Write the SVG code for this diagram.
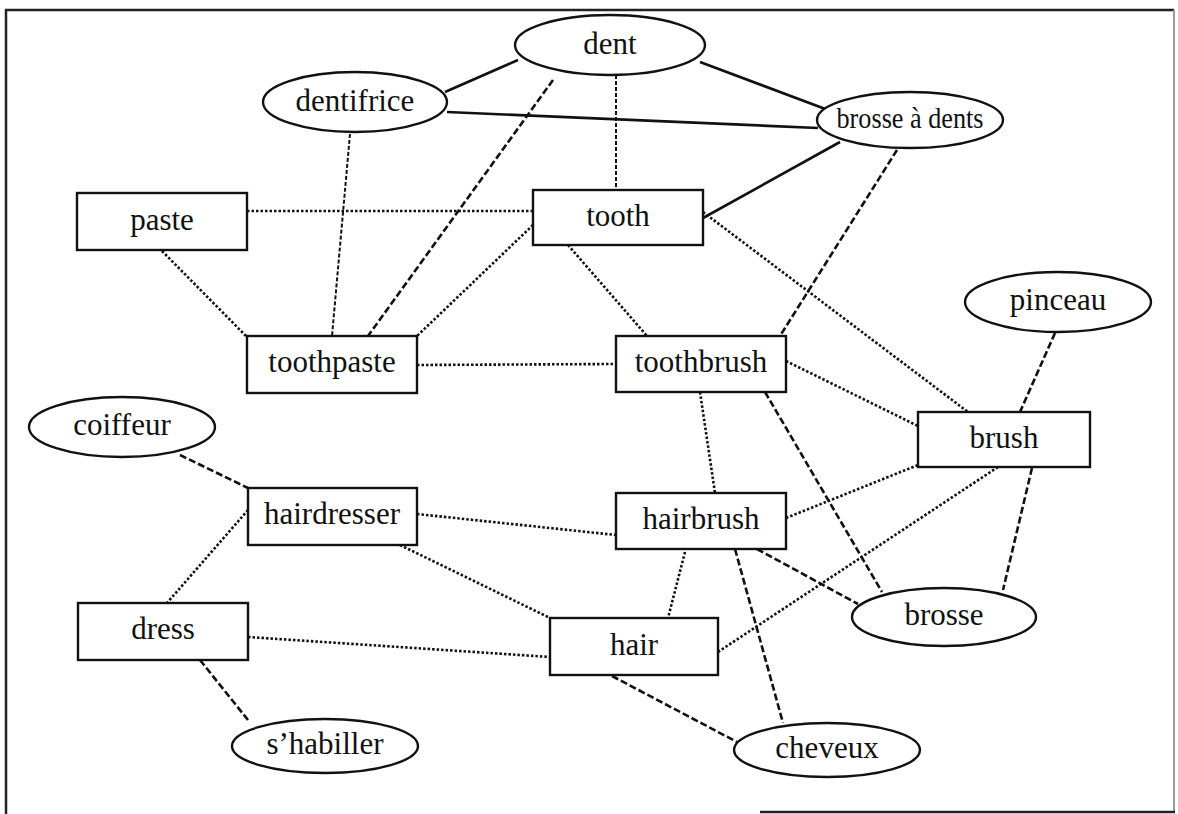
<svg xmlns="http://www.w3.org/2000/svg" width="1178" height="814" viewBox="0 0 1178 814">
<style>
.bg{fill:#ffffff}
.frame{fill:none;stroke:#222;stroke-width:2.5}
.frame2{fill:none;stroke:#999;stroke-width:2}
.box{fill:#fff;stroke:#111;stroke-width:2.4}
.ell{fill:#fff;stroke:#111;stroke-width:2.4}
.lbl{font-family:"Liberation Serif","Times New Roman",serif;font-size:31px;fill:#111;text-anchor:middle;dominant-baseline:central}
.small{font-size:29px}
.solid{stroke:#111;stroke-width:2.6;fill:none}
.dash{stroke:#111;stroke-width:2.6;stroke-dasharray:7 3;fill:none}
.fdash{stroke:#111;stroke-width:2;stroke-dasharray:4 2;fill:none}
.dot{stroke:#111;stroke-width:2.6;stroke-dasharray:2.5 2;fill:none}
</style>
<rect class="bg" x="0" y="0" width="1178" height="814"/>
<g id="frame">
<polyline class="frame" points="6,814 6,10 1174,10"/>
<line class="frame2" x1="1174" y1="10" x2="1174" y2="812"/>
<line class="frame" x1="760" y1="812" x2="1175" y2="812"/>
</g>
<g id="connectors">
<line class="solid" x1="445" y1="92" x2="518" y2="60"/>
<line class="solid" x1="447" y1="112" x2="818" y2="128"/>
<line class="solid" x1="700" y1="62" x2="828" y2="110"/>
<line class="solid" x1="703" y1="218" x2="840" y2="142"/>
<line class="fdash" x1="616" y1="75" x2="616" y2="190"/>
<line class="dash" x1="553" y1="80" x2="368" y2="336"/>
<line class="fdash" x1="350" y1="134" x2="332" y2="336"/>
<line class="dash" x1="897" y1="150" x2="780" y2="336"/>
<line class="dash" x1="1055" y1="333" x2="1020" y2="412"/>
<line class="dash" x1="1032" y1="468" x2="1003" y2="590"/>
<line class="dash" x1="765" y1="392" x2="882" y2="592"/>
<line class="dash" x1="757" y1="549" x2="858" y2="604"/>
<line class="dash" x1="735" y1="549" x2="783" y2="723"/>
<line class="dash" x1="612" y1="676" x2="737" y2="742"/>
<line class="dash" x1="180" y1="455" x2="248" y2="488"/>
<line class="dash" x1="200" y1="660" x2="248" y2="720"/>
<line class="dot" x1="247" y1="211" x2="533" y2="211"/>
<line class="dot" x1="162" y1="251" x2="246" y2="336"/>
<line class="dot" x1="533" y1="225" x2="417" y2="336"/>
<line class="dot" x1="568" y1="245" x2="647" y2="336"/>
<line class="dot" x1="417" y1="365" x2="616" y2="364"/>
<line class="dot" x1="703" y1="212" x2="968" y2="412"/>
<line class="dot" x1="786" y1="361" x2="918" y2="426"/>
<line class="dot" x1="700" y1="392" x2="715" y2="493"/>
<line class="dot" x1="786" y1="518" x2="918" y2="465"/>
<line class="dot" x1="718" y1="652" x2="998" y2="467"/>
<line class="dot" x1="417" y1="514" x2="616" y2="535"/>
<line class="dot" x1="400" y1="545" x2="550" y2="618"/>
<line class="dot" x1="248" y1="510" x2="167" y2="603"/>
<line class="dot" x1="248" y1="637" x2="550" y2="657"/>
<line class="dot" x1="685" y1="552" x2="668" y2="618"/>
</g>
<g id="dent"><ellipse class="ell" cx="610" cy="45" rx="95" ry="30"/><text class="lbl" x="610" y="43">dent</text></g>
<g id="dentifrice"><ellipse class="ell" cx="355" cy="102" rx="92" ry="30"/><text class="lbl" x="355" y="100">dentifrice</text></g>
<g id="brosse-a-dents"><ellipse class="ell" cx="910" cy="120" rx="93" ry="28"/><text class="lbl small" x="910" y="118" textLength="147" lengthAdjust="spacingAndGlyphs">brosse à dents</text></g>
<g id="paste"><rect class="box" x="77" y="193" width="170" height="57"/><text class="lbl" x="162" y="219">paste</text></g>
<g id="tooth"><rect class="box" x="533" y="190" width="170" height="55"/><text class="lbl" x="618" y="215">tooth</text></g>
<g id="pinceau"><ellipse class="ell" cx="1058" cy="302" rx="93" ry="30"/><text class="lbl" x="1058" y="299">pinceau</text></g>
<g id="toothpaste"><rect class="box" x="247" y="336" width="170" height="57"/><text class="lbl" x="332" y="361">toothpaste</text></g>
<g id="toothbrush"><rect class="box" x="616" y="336" width="170" height="56"/><text class="lbl" x="701" y="361">toothbrush</text></g>
<g id="coiffeur"><ellipse class="ell" cx="122" cy="427" rx="93" ry="30"/><text class="lbl" x="122" y="424">coiffeur</text></g>
<g id="brush"><rect class="box" x="918" y="412" width="172" height="55"/><text class="lbl" x="1004" y="437">brush</text></g>
<g id="hairdresser"><rect class="box" x="248" y="488" width="169" height="57"/><text class="lbl" x="332" y="513">hairdresser</text></g>
<g id="hairbrush"><rect class="box" x="616" y="493" width="170" height="56"/><text class="lbl" x="701" y="518">hairbrush</text></g>
<g id="dress"><rect class="box" x="78" y="603" width="170" height="57"/><text class="lbl" x="163" y="628">dress</text></g>
<g id="hair"><rect class="box" x="550" y="618" width="168" height="57"/><text class="lbl" x="634" y="644">hair</text></g>
<g id="brosse"><ellipse class="ell" cx="944" cy="617" rx="92" ry="29"/><text class="lbl" x="944" y="614">brosse</text></g>
<g id="s-habiller"><ellipse class="ell" cx="325" cy="746" rx="93" ry="27"/><text class="lbl" x="325" y="743">s’habiller</text></g>
<g id="cheveux"><ellipse class="ell" cx="827" cy="750" rx="93" ry="27"/><text class="lbl" x="827" y="747">cheveux</text></g>
</svg>
